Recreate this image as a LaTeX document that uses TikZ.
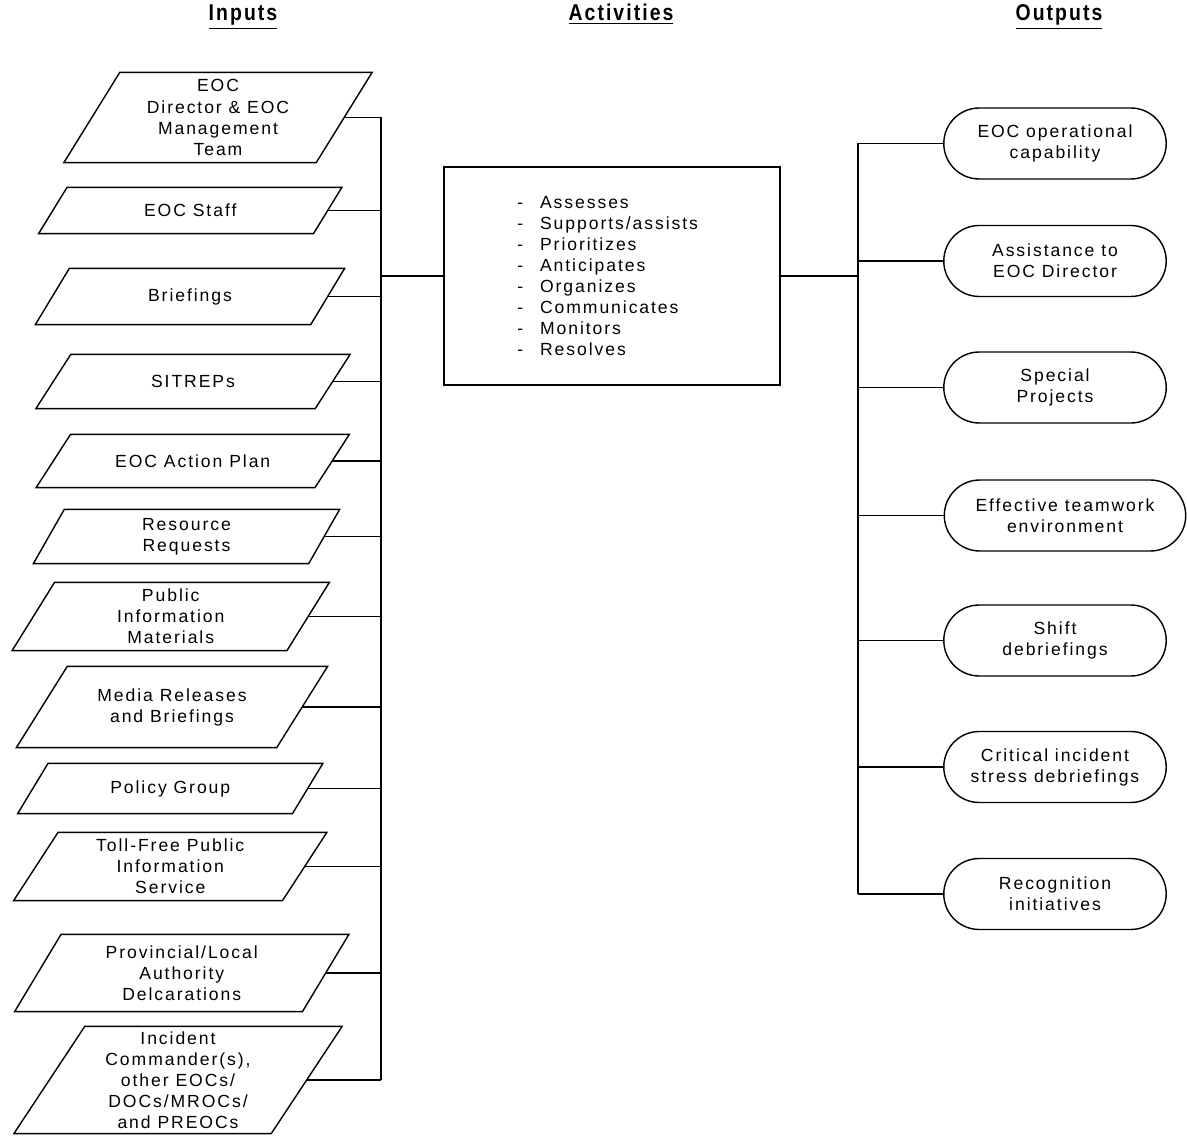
\documentclass[tikz,border=0pt]{standalone}
\usepackage{fontspec}
\setmainfont{Liberation Sans}[LetterSpace=11]
\newfontfamily\headfont{Liberation Sans}[FakeStretch=0.85, LetterSpace=9]
\usetikzlibrary{shapes.misc}

\newcommand{\lblfont}{\fontsize{10}{12}\selectfont}
\newcommand{\dashitem}[1]{\makebox[13pt][l]{-}#1}

\tikzset{
    inbox/.style={inner sep=1pt, align=center, font=\lblfont},
    outbox/.style={draw, rounded rectangle, minimum width=4.52cm, minimum height=1.42cm,
        inner sep=1pt, align=center, font=\lblfont},
    headline/.style={font=\headfont\fontsize{13}{15}\selectfont\bfseries, anchor=base},
    wire/.style={line width=0.8pt}
}

\begin{document}
\begin{tikzpicture}[x=0.02cm, y=-0.02cm, line width=0.8pt]

    \useasboundingbox (0, 0) rectangle (1187, 1138);

    \node[headline] (hin) at (243, 21) {\underline{Inputs}};
    \node[headline] (hact) at (621, 21) {\underline{Activities}};
    \node[headline] (hout) at (1059, 21) {\underline{Outputs}};

    % inputs
    \node[inbox, minimum width=5.02cm, minimum height=1.78cm] (in1) at (218, 117.5) {EOC\\Director \& EOC\\Management\\Team};
    \node[inbox, minimum width=5.47cm, minimum height=0.90cm] (in2) at (190.25, 210.5) {EOC Staff};
    \node[inbox, minimum width=5.48cm, minimum height=1.10cm] (in3) at (190, 296.5) {Briefings};
    \node[inbox, minimum width=5.56cm, minimum height=1.06cm] (in4) at (193, 381.5) {SITREPs};
    \node[inbox, minimum width=5.55cm, minimum height=1.04cm] (in5) at (192.75, 461) {EOC Action Plan};
    \node[inbox, minimum width=5.48cm, minimum height=1.06cm] (in6) at (186.5, 536.5) {Resource\\Requests};
    \node[inbox, minimum width=5.47cm, minimum height=1.34cm] (in7) at (170.75, 616.5) {Public\\Information\\Materials};
    \node[inbox, minimum width=5.18cm, minimum height=1.60cm] (in8) at (172, 707) {Media Releases\\and Briefings};
    \node[inbox, minimum width=5.47cm, minimum height=0.98cm] (in9) at (170.25, 788.5) {Policy Group};
    \node[inbox, minimum width=5.35cm, minimum height=1.34cm] (in10) at (170.25, 866.5) {Toll-Free Public\\Information\\Service};
    \node[inbox, minimum width=5.73cm, minimum height=1.52cm] (in11) at (181.75, 973) {Provincial/Local\\Authority\\Delcarations};
    \node[inbox, minimum width=5.12cm, minimum height=2.12cm] (in12) at (178, 1080) {Incident\\Commander(s),\\other EOCs/\\DOCs/MROCs/\\and PREOCs};

    \foreach \n/\s in {in1/0.56, in2/0.285, in3/0.34, in4/0.35, in5/0.345, in6/0.31,
                       in7/0.425, in8/0.51, in9/0.305, in10/0.445, in11/0.465, in12/0.71}
        \draw ([xshift=-\s cm]\n.south west) -- ([xshift=-\s cm]\n.south east)
            -- ([xshift=\s cm]\n.north east) -- ([xshift=\s cm]\n.north west) -- cycle;

    % activities
    \node[draw, minimum width=6.72cm, minimum height=4.36cm, align=left, font=\lblfont] (act) at (612, 276) {%
        \dashitem{Assesses}\\
        \dashitem{Supports/assists}\rule{5pt}{0pt}\\
        \dashitem{Prioritizes}\\
        \dashitem{Anticipates}\\
        \dashitem{Organizes}\\
        \dashitem{Communicates}\\
        \dashitem{Monitors}\\
        \dashitem{Resolves}};

    % outputs
    \node[outbox] (out1) at (1055, 143.5) {EOC operational\\capability};
    \node[outbox] (out2) at (1055, 261) {Assistance to\\EOC Director};
    \node[outbox] (out3) at (1055, 387.5) {Special\\Projects};
    \node[outbox, minimum width=4.9cm] (out4) at (1065, 515.5) {Effective teamwork\\environment};
    \node[outbox] (out5) at (1055, 640.5) {Shift\\debriefings};
    \node[outbox] (out6) at (1055, 767) {Critical incident\\stress debriefings};
    \node[outbox] (out7) at (1055, 894) {Recognition\\initiatives};

    \coordinate (lbus) at (381, 0);
    \coordinate (rbus) at (858, 0);

    \draw[wire] (in1.east -| lbus) -- (in12.east -| lbus);
    \draw[wire] (in1.east) -- (in1.east -| lbus);
    \draw[wire] (in2.east) -- (in2.east -| lbus);
    \draw[wire] (in3.east) -- (in3.east -| lbus);
    \draw[wire] (in4.east) -- (in4.east -| lbus);
    \draw[wire] (in5.east) -- (in5.east -| lbus);
    \draw[wire] (in6.east) -- (in6.east -| lbus);
    \draw[wire] (in7.east) -- (in7.east -| lbus);
    \draw[wire] (in8.east) -- (in8.east -| lbus);
    \draw[wire] (in9.east) -- (in9.east -| lbus);
    \draw[wire] (in10.east) -- (in10.east -| lbus);
    \draw[wire] (in11.east) -- (in11.east -| lbus);
    \draw[wire] (in12.east) -- (in12.east -| lbus);
    \draw[wire] (act.west -| lbus) -- (act.west);

    \draw[wire] (act.east) -- (act.east -| rbus);
    \draw[wire] (out1.west -| rbus) -- (out7.west -| rbus);
    \draw[wire] (out1.west -| rbus) -- (out1.west);
    \draw[wire] (out2.west -| rbus) -- (out2.west);
    \draw[wire] (out3.west -| rbus) -- (out3.west);
    \draw[wire] (out4.west -| rbus) -- (out4.west);
    \draw[wire] (out5.west -| rbus) -- (out5.west);
    \draw[wire] (out6.west -| rbus) -- (out6.west);
    \draw[wire] (out7.west -| rbus) -- (out7.west);

\end{tikzpicture}
\end{document}
